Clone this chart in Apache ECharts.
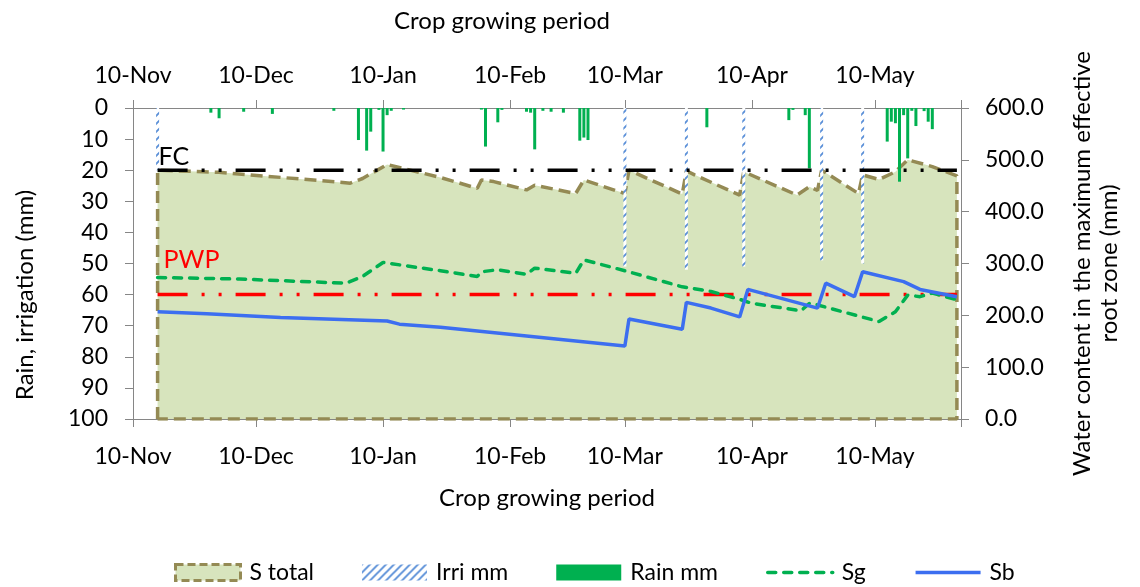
<!DOCTYPE html>
<html>
<head>
<meta charset="utf-8">
<script src="https://cdn.jsdelivr.net/npm/echarts@6/dist/echarts.min.js"></script>
<style>
html,body{margin:0;padding:0;background:#ffffff;}
#c{width:1140px;height:587px;}
</style>
</head>
<body>
<div id="c"></div>
<script>
// ---------- DATA (x = days after 10-Nov) ----------
const tickLabels = ['10-Nov','10-Dec','10-Jan','10-Feb','10-Mar','10-Apr','10-May'];
const tickDays   = [0, 30, 61, 92, 120, 151, 181];
const AXIS_END_DAY = 202;

const rainDays = [19,21,27,34,49,55,57,58,60,61,62,63,66,85,86,89,90,96,97,98,100,102,105,109,110,111,140,160,161,164,165,184,185,186,187,188,189,190,191,193,194,195];
const rainMm   = [1.5,3.3,1.2,1.9,0.9,10.3,13.7,7.6,0.6,14,2.3,0.9,0.5,0.5,12.4,4.6,0.6,1.2,1.5,13.3,0.9,1.2,1.5,10.5,9.5,10.3,6.2,3.9,0.6,2.3,19.4,10.8,4.4,4.9,23.7,2.3,16.2,0.9,5.8,1,4.4,6.8];

const irriDays = [6,120,135,149,168,178];
const irriMm   = [20,51,52,51,49,50];

const sTotalDays = [6,21,53,56,62,75,84,85,88,96,98,108,110,120,121,134,135,137,148,149,162,165,167,168,177,178,182,186,189,195,201];
const sTotalMm   = [480,476,455,464,491,466,445,461,458,442,451,435,461,435,480,434,479,471,432,477,432,448,441,480,435,471,462,477,500,487,469];

const sgDays = [6,26,52,56,61,75,84,85,89,96,98,108,110,120,134,141,148,151,163,165,167,182,186,189,192,195,201];
const sgMm   = [273,270,262,275,302,286,275,284,288,279,291,281,307,286,255,246,231,223,209,223,220,188,207,239,236,243,230];

const sbDays = [6,18,36,62,65,75,120,121,134,135,141,148,150,167,169,176,178,188,192,201];
const sbMm   = [207,203,196,189,183,177,141,193,173,225,214,197,250,214,262,236,284,265,250,236];

const FC_VALUE = 480;
const PWP_VALUE = 240;
const refStartDay = 6, refEndDay = 201;

// ---------- STYLE ----------
const FONT = 'Lato';
const AXIS_GRAY = '#868686';
const OLIVE = '#948a54';
const FILL = '#d7e4bd';
const GREEN = '#00b050';
const BLUE = '#3c6ef0';
const IRRI_BLUE = '#5a8fd8';

function hatch() {
  const c = document.createElement('canvas');
  c.width = 8; c.height = 8;
  const g = c.getContext('2d');
  g.fillStyle = '#ffffff'; g.fillRect(0, 0, 8, 8);
  g.strokeStyle = IRRI_BLUE; g.lineWidth = 1.9;
  g.beginPath();
  g.moveTo(-2, 10); g.lineTo(10, -2);
  g.moveTo(-2, 2); g.lineTo(2, -2);
  g.moveTo(6, 10); g.lineTo(10, 6);
  g.stroke();
  return c;
}

const zip = (xs, ys) => xs.map((x, i) => [x, ys[i]]);

// S total drawn as closed outline (top line + vertical edges + baseline)
const sTotalOutline = [[sTotalDays[0], 0]]
  .concat(zip(sTotalDays, sTotalMm))
  .concat([[sTotalDays[sTotalDays.length - 1], 0], [sTotalDays[0], 0]]);

const txt = (size, color) => ({ fontFamily: FONT, fontSize: size, color: color || '#000' });

function xAxisCfg(pos, labelMargin, nameGap, namePad) {
  return {
    type: 'value', position: pos, min: 0, max: AXIS_END_DAY,
    axisLine: { show: true, onZero: false, lineStyle: { color: AXIS_GRAY, width: 1 } },
    axisTick: { show: true, length: 8, customValues: tickDays.concat([AXIS_END_DAY]), lineStyle: { color: AXIS_GRAY } },
    axisLabel: Object.assign({ customValues: tickDays, margin: labelMargin,
      formatter: v => { const i = tickDays.indexOf(Math.round(v)); return i >= 0 ? tickLabels[i] : ''; } }, txt(23)),
    splitLine: { show: false },
    name: 'Crop growing period', nameLocation: 'middle', nameGap: nameGap,
    nameTextStyle: Object.assign({ padding: namePad }, txt(24))
  };
}

const chart = echarts.init(document.getElementById('c'), null, { renderer: 'canvas' });
chart.setOption({
  animation: false,
  backgroundColor: '#ffffff',
  grid: { left: 133, right: 179, top: 108, bottom: 168, containLabel: false, outerBoundsMode: 'none' },
  legend: {
    left: 169, top: 556, itemWidth: 65, itemHeight: 16, itemGap: 48,
    textStyle: Object.assign({ padding: [0, 0, 0, 4] }, txt(23)),
    lineStyle: { width: 3.5 },
    data: [
      { name: 'S total', icon: 'rect', itemStyle: { color: FILL, borderColor: OLIVE, borderWidth: 3, borderType: [8, 4] } },
      { name: 'Irri mm', icon: 'rect' },
      { name: 'Rain mm', icon: 'rect' },
      { name: 'Sg', itemStyle: { opacity: 0 } },
      { name: 'Sb', itemStyle: { opacity: 0 } }
    ]
  },
  xAxis: [ xAxisCfg('bottom', 26, 67, [0, 0, 0, 0]), xAxisCfg('top', 21, 75, [0, 90, 0, 0]) ],
  yAxis: [
    {
      type: 'value', position: 'left', min: 0, max: 100, interval: 10, inverse: true,
      axisLine: { show: true, onZero: false, lineStyle: { color: AXIS_GRAY } },
      axisTick: { show: true, length: 8, lineStyle: { color: AXIS_GRAY } },
      axisLabel: Object.assign({ margin: 25 }, txt(23)),
      splitLine: { show: false },
      name: 'Rain, irrigation (mm)', nameLocation: 'middle', nameGap: 96,
      nameTextStyle: Object.assign({ padding: [0, 63, 0, 0] }, txt(24))
    },
    {
      type: 'value', position: 'right', min: 0, max: 600, interval: 100,
      axisLine: { show: true, onZero: false, lineStyle: { color: AXIS_GRAY } },
      axisTick: { show: true, length: 8, lineStyle: { color: AXIS_GRAY } },
      axisLabel: Object.assign({ margin: 24, formatter: v => v.toFixed(1) }, txt(23)),
      splitLine: { show: false },
      name: 'Water content in the maximum effective\nroot zone (mm)', nameLocation: 'middle', nameGap: 108,
      nameTextStyle: Object.assign({ lineHeight: 27 }, txt(24))
    }
  ],
  series: [
    {
      name: 'S total', type: 'line', xAxisIndex: 0, yAxisIndex: 1, symbol: 'none', z: 1, silent: true,
      data: sTotalOutline,
      lineStyle: { color: OLIVE, width: 3.5, type: [12, 6] },
      areaStyle: { color: FILL, opacity: 1 },
      itemStyle: { color: FILL }
    },
    {
      name: 'Irri mm', type: 'bar', xAxisIndex: 0, yAxisIndex: 0, barWidth: 3, z: 2, silent: true,
      data: zip(irriDays, irriMm),
      itemStyle: { color: { image: hatch(), repeat: 'repeat' } }
    },
    {
      name: 'Rain mm', type: 'bar', xAxisIndex: 1, yAxisIndex: 0, barWidth: 3, z: 2, silent: true,
      data: zip(rainDays, rainMm),
      itemStyle: { color: GREEN }
    },
    {
      name: 'FC', type: 'line', xAxisIndex: 0, yAxisIndex: 1, z: 3, silent: true,
      symbol: 'circle', symbolSize: 0, showSymbol: true,
      lineStyle: { color: '#000', width: 3.5, type: [30, 14, 3, 14, 3, 14] },
      itemStyle: { color: '#000' },
      data: [
        { value: [refStartDay, FC_VALUE], label: Object.assign({ show: true, formatter: 'FC', position: [1, -1], align: 'left', verticalAlign: 'bottom' }, txt(25)) },
        [refEndDay, FC_VALUE]
      ]
    },
    {
      name: 'PWP', type: 'line', xAxisIndex: 0, yAxisIndex: 1, z: 3, silent: true,
      symbol: 'circle', symbolSize: 0, showSymbol: true,
      lineStyle: { color: '#ff0000', width: 3.5, type: [30, 14, 3, 14, 3, 14] },
      itemStyle: { color: '#ff0000' },
      data: [
        { value: [refStartDay, PWP_VALUE], label: Object.assign({ show: true, formatter: 'PWP', position: [6, -22], align: 'left', verticalAlign: 'bottom' }, txt(25, '#ff0000')) },
        [refEndDay, PWP_VALUE]
      ]
    },
    {
      name: 'Sg', type: 'line', xAxisIndex: 0, yAxisIndex: 1, symbol: 'none', z: 4, silent: true,
      data: zip(sgDays, sgMm),
      lineStyle: { color: GREEN, width: 3.5, type: [8, 8], cap: 'round' },
      itemStyle: { color: GREEN }
    },
    {
      name: 'Sb', type: 'line', xAxisIndex: 0, yAxisIndex: 1, symbol: 'none', z: 5, silent: true,
      data: zip(sbDays, sbMm),
      lineStyle: { color: BLUE, width: 3.5 },
      itemStyle: { color: BLUE }
    }
  ]
});
</script>
</body>
</html>
